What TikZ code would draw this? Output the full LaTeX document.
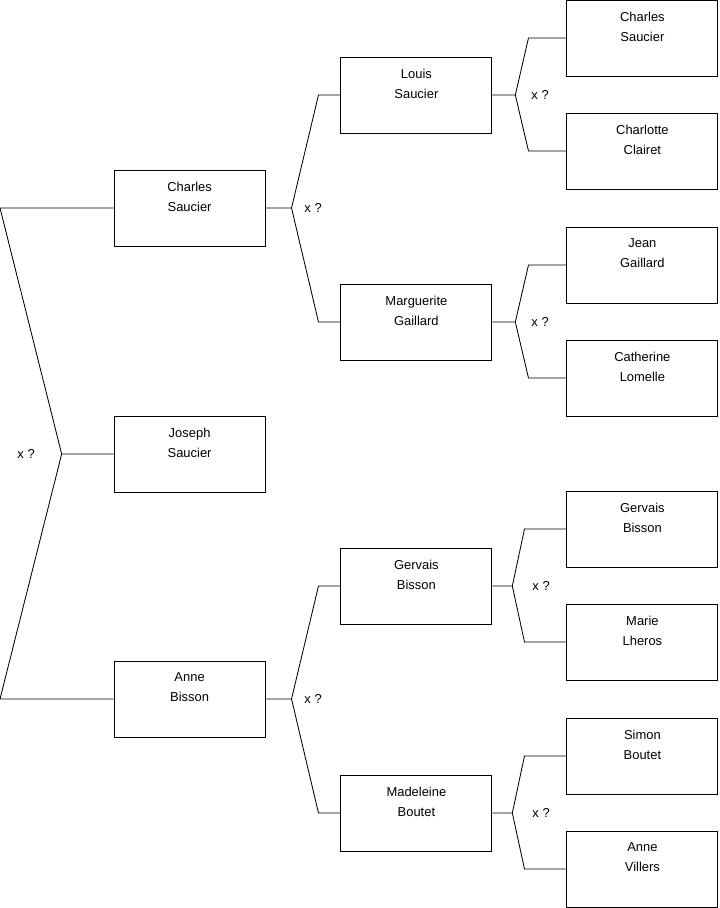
\documentclass[tikz,border=0pt]{standalone}
\usepackage{fontspec}
\setmainfont{Liberation Sans}
\usetikzlibrary{positioning}
\newcommand{\who}[2]{\parbox[c][1.9cm][t]{3.7cm}{\centering\vspace*{0.3cm}#1\\#2}}
\tikzset{
	person/.style={rectangle, draw=black, line width=0.6pt, inner sep=0pt, minimum width=3.775cm, minimum height=1.9cm},
	fork/.style={draw=black, line width=0.6pt},
}
\begin{document}
\begin{tikzpicture}[every node/.style={font=\fontsize{9.2}{14.2}\selectfont}]
	\useasboundingbox (0,0) rectangle (17.975,-22.7);
	\coordinate (edge) at (0,0);
	% generation 1
	\node[person] (js) at (4.74,-11.35) {\who{Joseph}{Saucier}};
	% generation 2
	\node[person] (cs) at (4.74,-5.2) {\who{Charles}{Saucier}};
	\node[person] (ab) at (4.74,-17.475) {\who{Anne}{Bisson}};
	% generation 3
	\node[person] (ls) at (10.41,-2.375) {\who{Louis}{Saucier}};
	\node[person] (mg) at (10.41,-8.05) {\who{Marguerite}{Gaillard}};
	\node[person] (gb) at (10.41,-14.65) {\who{Gervais}{Bisson}};
	\node[person] (mb) at (10.41,-20.325) {\who{Madeleine}{Boutet}};
	% generation 4
	\node[person] (cs2) at (16.06,-0.95) {\who{Charles}{Saucier}};
	\node[person] (cc) at (16.06,-3.775) {\who{Charlotte}{Clairet}};
	\node[person] (jg) at (16.06,-6.625) {\who{Jean}{Gaillard}};
	\node[person] (cl) at (16.06,-9.45) {\who{Catherine}{Lomelle}};
	\node[person] (gb2) at (16.06,-13.225) {\who{Gervais}{Bisson}};
	\node[person] (ml) at (16.06,-16.05) {\who{Marie}{Lheros}};
	\node[person] (sb) at (16.06,-18.9) {\who{Simon}{Boutet}};
	\node[person] (av) at (16.06,-21.725) {\who{Anne}{Villers}};
	% forks
	\draw[fork] (js.west) -- ++(-1.3,0) coordinate (fjs) -- (edge |- cs.west) -- (cs.west);
	\draw[fork] (fjs) -- (edge |- ab.west) -- (ab.west);
	\node[left=0.55cm of fjs] (qjs) {x ?};
	\draw[fork] (cs.east) -- ++(0.65,0) coordinate (fcs) -- ([xshift=-0.55cm]ls.west) -- (ls.west);
	\draw[fork] (fcs) -- ([xshift=-0.55cm]mg.west) -- (mg.west);
	\node[right=0.2cm of fcs] (qcs) {x ?};
	\draw[fork] (ab.east) -- ++(0.65,0) coordinate (fab) -- ([xshift=-0.55cm]gb.west) -- (gb.west);
	\draw[fork] (fab) -- ([xshift=-0.55cm]mb.west) -- (mb.west);
	\node[right=0.2cm of fab] (qab) {x ?};
	\draw[fork] (ls.east) -- ++(0.575,0) coordinate (fls) -- ([xshift=-0.95cm]cs2.west) -- (cs2.west);
	\draw[fork] (fls) -- ([xshift=-0.95cm]cc.west) -- (cc.west);
	\node[right=0.28cm of fls] (qls) {x ?};
	\draw[fork] (mg.east) -- ++(0.575,0) coordinate (fmg) -- ([xshift=-0.95cm]jg.west) -- (jg.west);
	\draw[fork] (fmg) -- ([xshift=-0.95cm]cl.west) -- (cl.west);
	\node[right=0.28cm of fmg] (qmg) {x ?};
	\draw[fork] (gb.east) -- ++(0.5,0) coordinate (fgb) -- ([xshift=-1.05cm]gb2.west) -- (gb2.west);
	\draw[fork] (fgb) -- ([xshift=-1.05cm]ml.west) -- (ml.west);
	\node[right=0.38cm of fgb] (qgb) {x ?};
	\draw[fork] (mb.east) -- ++(0.5,0) coordinate (fmb) -- ([xshift=-1.05cm]sb.west) -- (sb.west);
	\draw[fork] (fmb) -- ([xshift=-1.05cm]av.west) -- (av.west);
	\node[right=0.38cm of fmb] (qmb) {x ?};
\end{tikzpicture}
\end{document}
